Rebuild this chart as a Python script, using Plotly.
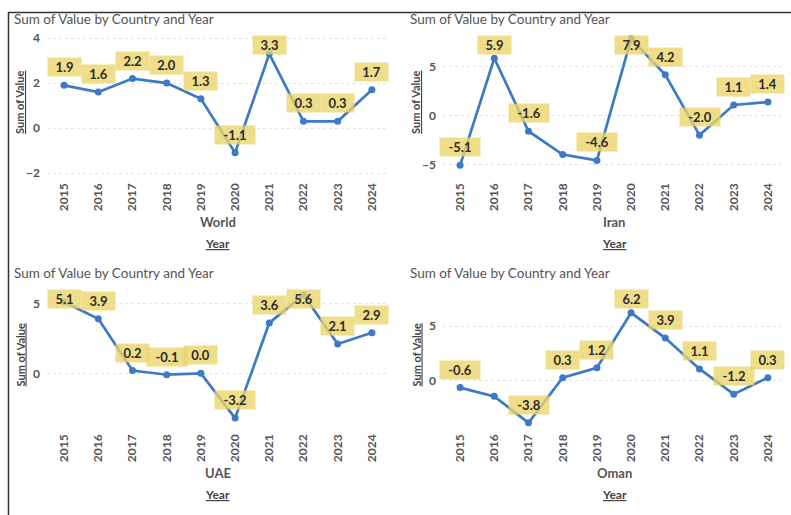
import plotly.graph_objects as go

W, H = 791, 515

years = ["2015", "2016", "2017", "2018", "2019", "2020", "2021", "2022", "2023", "2024"]
world = [1.9, 1.6, 2.2, 2.0, 1.3, -1.1, 3.3, 0.3, 0.3, 1.7]
iran = [-5.1, 5.9, -1.6, -4.0, -4.6, 7.9, 4.2, -2.0, 1.1, 1.4]
uae = [5.1, 3.9, 0.2, -0.1, 0.0, -3.2, 3.6, 5.6, 2.1, 2.9]
oman = [-0.6, -1.4, -3.8, 0.3, 1.2, 6.2, 3.9, 1.1, -1.2, 0.3]

world_ticks = [-2, 0, 2, 4]
iran_ticks = [-5, 0, 5]
uae_ticks = [0, 5]
oman_ticks = [0, 5]

iran_hidden = ["2018"]
oman_hidden = ["2016"]

chart_title = "Sum of Value by Country and Year"
y_title = "Sum of Value"
x_title = "Year"

panels = [
    dict(name="World", vals=world, ticks=world_ticks, hidden=[],
         xd=(47, 389), yd=(30, 180), yr=(-2.31, 4.36), title_xy=(12, 19)),
    dict(name="Iran", vals=iran, ticks=iran_ticks, hidden=iran_hidden,
         xd=(443, 785), yd=(30, 180), yr=(-6.61, 8.80), title_xy=(408, 19)),
    dict(name="UAE", vals=uae, ticks=uae_ticks, hidden=[],
         xd=(47, 389), yd=(284, 431), yr=(-4.12, 6.38), title_xy=(12, 273)),
    dict(name="Oman", vals=oman, ticks=oman_ticks, hidden=oman_hidden,
         xd=(443, 785), yd=(284, 431), yr=(-4.55, 8.82), title_xy=(408, 273)),
]

LINE = "#3C7AC6"
BOX = "rgba(236,211,105,0.78)"
FONT = "Lato"

fig = go.Figure()
annotations = []
layout = dict(
    width=W, height=H, margin=dict(l=0, r=0, t=0, b=0),
    paper_bgcolor="white", plot_bgcolor="white", showlegend=False,
    font=dict(family=FONT, color="#555"),
)

def px_x(p):
    return p / W

def px_y(p):
    return 1 - p / H

for i, p in enumerate(panels, start=1):
    sfx = "" if i == 1 else str(i)
    xa, ya = "xaxis" + sfx, "yaxis" + sfx
    xr, yr_ = "x" + sfx, "y" + sfx
    layout[xa] = dict(
        domain=[px_x(p["xd"][0]), px_x(p["xd"][1])],
        anchor=yr_, type="category", range=[-0.5, len(years) - 0.5],
        tickangle=-90, showgrid=False, showline=False, zeroline=False, ticks="",
        tickfont=dict(size=12, color="#555", family=FONT, weight="bold"),
        fixedrange=True,
    )
    layout[ya] = dict(
        domain=[px_y(p["yd"][1]), px_y(p["yd"][0])],
        anchor=xr, range=list(p["yr"]), tickvals=p["ticks"],
        showgrid=True, gridcolor="#e4e4e4", griddash="dot", gridwidth=1,
        zeroline=False, showline=False, ticks="", ticklabelstandoff=6,
        tickfont=dict(size=12, color="#555", family=FONT, weight="bold"),
        fixedrange=True,
    )
    fig.add_trace(go.Scatter(
        x=years, y=p["vals"], xaxis=xr, yaxis=yr_, mode="lines+markers",
        line=dict(color=LINE, width=2.7), marker=dict(color=LINE, size=7),
        hoverinfo="skip",
    ))
    # data labels
    y0, y1 = p["yr"]
    t, b = p["yd"]
    for j, (yrv, v) in enumerate(zip(years, p["vals"])):
        if yrv in p["hidden"]:
            continue
        pt = t + (y1 - v) / (y1 - y0) * (b - t)
        center = max(pt - 18, t + 15)
        s = "%.1f" % v
        annotations.append(dict(
            x=j, y=v, xref=xr, yref=yr_, yshift=pt - center,
            text=s, showarrow=False,
            bgcolor=BOX, height=18, width=7 * len(s) + 12, borderpad=0,
            font=dict(size=13, color="#2b2b2b", family=FONT, weight="bold"),
        ))
    # titles
    annotations.append(dict(
        x=px_x(p["title_xy"][0]), y=px_y(p["title_xy"][1]), xref="paper", yref="paper",
        xanchor="left", yanchor="middle", text=chart_title, showarrow=False,
        font=dict(size=13.5, color="#555", family=FONT),
    ))
    cx = (p["xd"][0] + p["xd"][1]) / 2
    annotations.append(dict(
        x=px_x(cx), y=px_y(b + 42), xref="paper", yref="paper",
        xanchor="center", yanchor="middle", text=p["name"], showarrow=False,
        font=dict(size=13, color="#555", family=FONT, weight="bold"),
    ))
    annotations.append(dict(
        x=px_x(cx), y=px_y(b + 63), xref="paper", yref="paper",
        xanchor="center", yanchor="middle", text="<u>%s</u>" % x_title, showarrow=False,
        font=dict(size=12, color="#444", family=FONT, weight="bold"),
    ))
    annotations.append(dict(
        x=px_x(p["xd"][0] - 27), y=px_y((t + b) / 2 - 3), xref="paper", yref="paper",
        xanchor="center", yanchor="middle", text="<u>%s</u>" % y_title, showarrow=False,
        textangle=-90, font=dict(size=11, color="#444", family=FONT, weight="bold"),
    ))

layout["annotations"] = annotations
layout["shapes"] = [
    dict(type="line", xref="paper", yref="paper", x0=px_x(8), x1=1, y0=px_y(12.5), y1=px_y(12.5),
         line=dict(color="#333", width=1.5)),
    dict(type="line", xref="paper", yref="paper", x0=px_x(8.5), x1=px_x(8.5), y0=px_y(12), y1=0,
         line=dict(color="#333", width=1.5)),
]
fig.update_layout(**layout)
fig.write_html("out.html")
